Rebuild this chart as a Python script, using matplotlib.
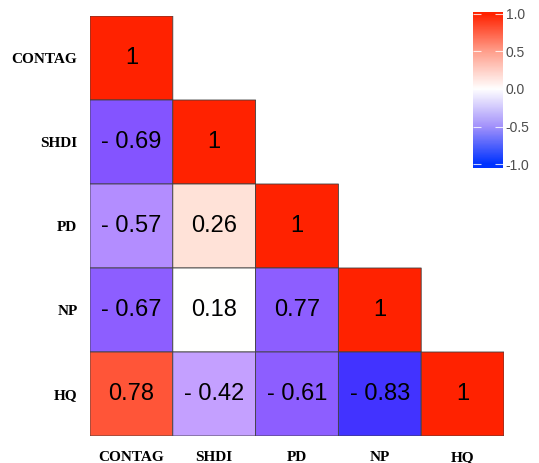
import matplotlib
matplotlib.use("Agg")
import matplotlib.pyplot as plt
from matplotlib.colors import LinearSegmentedColormap
import numpy as np

# variables, top-to-bottom / left-to-right
variables = ["CONTAG", "SHDI", "PD", "NP", "HQ"]

# correlation values printed in the lower triangle (row, col)
corr_labels = [
    ["1"],
    ["- 0.69", "1"],
    ["- 0.57", "0.26", "1"],
    ["- 0.67", "0.18", "0.77", "1"],
    ["0.78", "- 0.42", "- 0.61", "- 0.83", "1"],
]

# fill shade of each cell (on the -1..1 scale)
fill_values = [
    [1.00],
    [-0.69, 1.00],
    [-0.57, 0.26, 1.00],
    [-0.67, 0.00, -0.67, 1.00],
    [0.78, -0.42, -0.67, -0.83, 1.00],
]

cbar_ticks = [-1.0, -0.5, 0.0, 0.5, 1.0]

# colour scale of the cells
nodes = [(-1.0, "#0030ff"), (-0.83, "#4433ff"), (-0.69, "#8655ff"),
         (-0.57, "#b38dff"), (-0.42, "#c4a0ff"), (0.0, "#ffffff"),
         (0.26, "#ffe3d9"), (0.78, "#ff5538"), (1.0, "#ff2200")]
cmap = LinearSegmentedColormap.from_list(
    "corr", [((v + 1) / 2, c) for v, c in nodes])

# colour scale of the legend bar
bar_nodes = [(-1.0, "#0033ff"), (-0.5, "#a392fb"), (0.0, "#ffffff"),
             (0.5, "#ff9f8c"), (1.0, "#ff2200")]
bar_cmap = LinearSegmentedColormap.from_list(
    "bar", [((v + 1) / 2, c) for v, c in bar_nodes])

n = len(variables)
grid = np.full((n, n), np.nan)
for i, row in enumerate(fill_values):
    for j, v in enumerate(row):
        grid[i, j] = v
grid = np.ma.masked_invalid(grid)

fig = plt.figure(figsize=(5.39, 4.63), dpi=100)
ax = fig.add_axes([90 / 539, 27 / 463, 414 / 539, 420 / 463])
# pcolor skips masked cells, so the upper triangle stays blank
ax.pcolor(grid, cmap=cmap, vmin=-1, vmax=1,
          edgecolors="#404040", linewidth=0.6)
ax.set_xlim(0, n)
ax.set_ylim(n, 0)
for s in ax.spines.values():
    s.set_visible(False)

for i, row in enumerate(corr_labels):
    for j, lab in enumerate(row):
        ax.text(j + 0.5, i + 0.5, lab, ha="center", va="center",
                fontsize=17, family="Liberation Sans", color="black")

ax.set_xticks(np.arange(n) + 0.5)
ax.set_yticks(np.arange(n) + 0.5)
ax.set_xticklabels(variables, family="Liberation Serif", fontweight="bold",
                   fontsize=11)
ax.set_yticklabels(variables, family="Liberation Serif", fontweight="bold",
                   fontsize=11)
ax.tick_params(axis="x", length=0, pad=11)
ax.tick_params(axis="y", length=0, pad=9)

# colour bar
cax = fig.add_axes([473 / 539, (463 - 168) / 463, 30 / 539, 156 / 463])
grad = np.linspace(-1.05, 1.02, 300).reshape(-1, 1)
cax.imshow(grad, cmap=bar_cmap, vmin=-1, vmax=1, aspect="auto",
           origin="lower", extent=[0, 1, -1.05, 1.02])
cax.set_xlim(0, 1)
cax.set_ylim(-1.05, 1.02)
for t in cbar_ticks:
    cax.hlines(t, 0, 0.25, color="white", linewidth=0.8, alpha=0.8)
    cax.hlines(t, 0.75, 1, color="white", linewidth=0.8, alpha=0.8)
cax.set_xticks([])
cax.yaxis.tick_right()
cax.set_yticks(cbar_ticks)
cax.set_yticklabels([f"{t:.1f}" for t in cbar_ticks], fontsize=10,
                    color="#4d4d4d", family="Liberation Sans")
cax.tick_params(axis="y", length=0, pad=2)
for s in cax.spines.values():
    s.set_visible(False)

fig.savefig("out.png", dpi=100)
